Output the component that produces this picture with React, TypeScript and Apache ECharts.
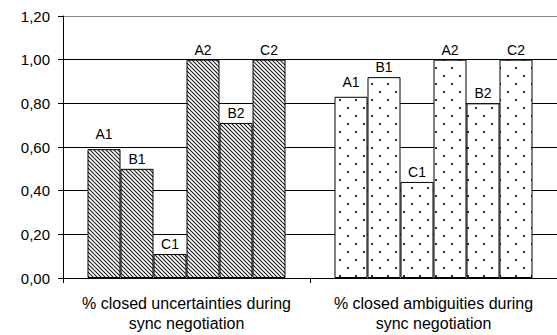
import React, { useEffect, useRef } from "react";
import * as echarts from "echarts";

const categories = [
  "% closed uncertainties during\nsync negotiation",
  "% closed ambiguities during\nsync negotiation",
];
const seriesNames = ["A1", "B1", "C1", "A2", "B2", "C2"];
const uncertaintiesClosed = [0.59, 0.5, 0.11, 1.0, 0.71, 1.0];
const ambiguitiesClosed = [0.83, 0.92, 0.44, 1.0, 0.8, 1.0];
const yMin = 0;
const yMax = 1.2;
const yStep = 0.2;

function makeHatch(): HTMLCanvasElement {
  const s = 4;
  const c = document.createElement("canvas");
  c.width = s;
  c.height = s;
  const ctx = c.getContext("2d")!;
  ctx.fillStyle = "#fff";
  ctx.fillRect(0, 0, s, s);
  ctx.strokeStyle = "#1a1a1a";
  ctx.lineWidth = 1.05;
  for (let k = -1; k <= 1; k++) {
    ctx.beginPath();
    ctx.moveTo(k * s - 1, -1);
    ctx.lineTo(k * s + s + 1, s + 1);
    ctx.stroke();
  }
  return c;
}

function makeDots(): HTMLCanvasElement {
  const s = 16;
  const c = document.createElement("canvas");
  c.width = s;
  c.height = s;
  const ctx = c.getContext("2d")!;
  ctx.fillStyle = "#fff";
  ctx.fillRect(0, 0, s, s);
  ctx.fillStyle = "#000";
  for (const [x, y] of [
    [4, 4],
    [12, 12],
  ]) {
    ctx.beginPath();
    ctx.arc(x, y, 1.1, 0, Math.PI * 2);
    ctx.fill();
  }
  return c;
}

export default function App() {
  const ref = useRef<HTMLDivElement>(null);
  useEffect(() => {
    if (!ref.current) return;
    const chart = echarts.init(ref.current, null, { renderer: "svg" });
    const hatch = makeHatch();
    const dots = makeDots();
    const hatchFill = { image: hatch, repeat: "repeat", imageWidth: 4, imageHeight: 4 };
    const dotFill = { image: dots, repeat: "repeat", imageWidth: 16, imageHeight: 16 };
    const font = "'Liberation Sans', Arial, sans-serif";

    const series = seriesNames.map((name, i) => ({
      name,
      type: "bar",
      barWidth: 33,
      barGap: "0%",
      data: [
        { value: uncertaintiesClosed[i], itemStyle: { color: hatchFill } },
        { value: ambiguitiesClosed[i], itemStyle: { color: dotFill } },
      ],
      itemStyle: { borderColor: "#000", borderWidth: 1 },
      label: {
        show: true,
        position: "top",
        distance: name === "A1" ? 8 : 3,
        formatter: name,
        color: "#000",
        fontFamily: font,
        fontSize: 14,
        fontWeight: "normal",
      },
    }));

    const gridColors = ["#000", "#000", "#000", "#000", "#000", "#000", "#8a8a8a"];

    chart.setOption({
      animation: false,
      backgroundColor: "#fff",
      grid: { left: 63, top: 16, width: 498, height: 262, containLabel: false },
      xAxis: {
        type: "category",
        data: categories,
        axisLine: { show: true, lineStyle: { color: "#000", width: 1 } },
        axisTick: { show: true, length: 5, lineStyle: { color: "#000" } },
        axisLabel: {
          color: "#000",
          fontFamily: font,
          fontSize: 16,
          lineHeight: 20,
          margin: 15,
          interval: 0,
        },
      },
      yAxis: {
        type: "value",
        min: yMin,
        max: yMax,
        interval: yStep,
        axisLine: { show: true, lineStyle: { color: "#000", width: 1 } },
        axisTick: { show: true, length: 5, lineStyle: { color: "#000" } },
        axisLabel: {
          color: "#000",
          fontFamily: font,
          fontSize: 15,
          margin: 13,
          formatter: (v: number) => v.toFixed(2).replace(".", ","),
        },
        splitLine: { show: true, lineStyle: { color: gridColors, width: 1 } },
      },
      series,
    });
    return () => chart.dispose();
  }, []);
  return (
    <div
      ref={ref}
      style={{ position: "fixed", left: 0, top: 0, width: 557, height: 335, background: "#fff" }}
    />
  );
}
